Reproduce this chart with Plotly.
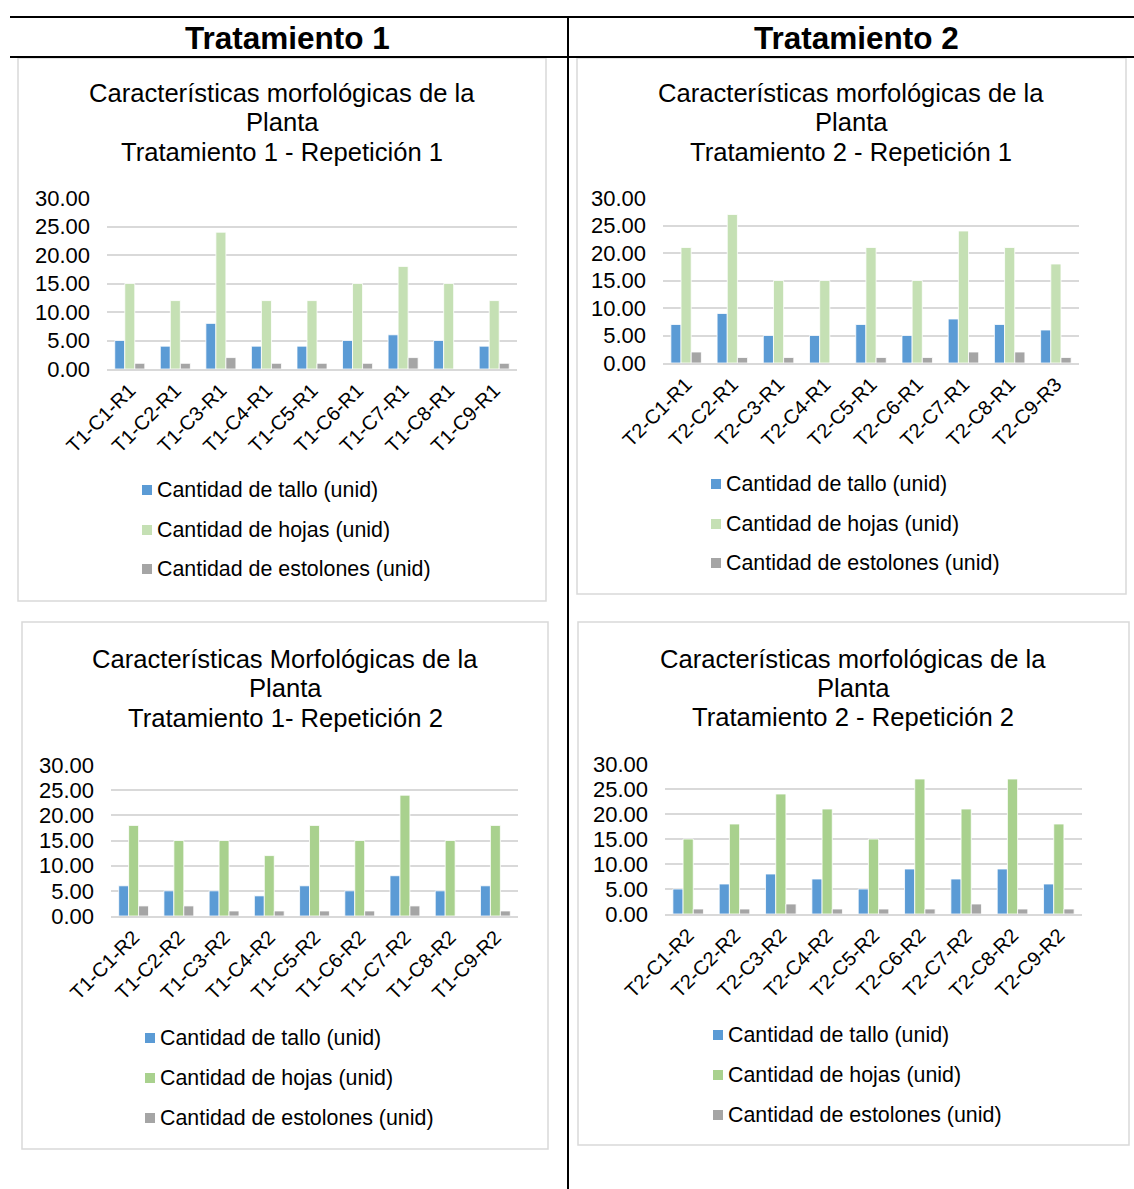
import plotly.graph_objects as go

W, H = 1134, 1189

# ---- data -------------------------------------------------------------
cat_t1_r1 = ["T1-C1-R1", "T1-C2-R1", "T1-C3-R1", "T1-C4-R1", "T1-C5-R1",
             "T1-C6-R1", "T1-C7-R1", "T1-C8-R1", "T1-C9-R1"]
tallo_t1_r1 = [5, 4, 8, 4, 4, 5, 6, 5, 4]
hojas_t1_r1 = [15, 12, 24, 12, 12, 15, 18, 15, 12]
estol_t1_r1 = [1, 1, 2, 1, 1, 1, 2, 0, 1]

cat_t2_r1 = ["T2-C1-R1", "T2-C2-R1", "T2-C3-R1", "T2-C4-R1", "T2-C5-R1",
             "T2-C6-R1", "T2-C7-R1", "T2-C8-R1", "T2-C9-R3"]
tallo_t2_r1 = [7, 9, 5, 5, 7, 5, 8, 7, 6]
hojas_t2_r1 = [21, 27, 15, 15, 21, 15, 24, 21, 18]
estol_t2_r1 = [2, 1, 1, 0, 1, 1, 2, 2, 1]

cat_t1_r2 = ["T1-C1-R2", "T1-C2-R2", "T1-C3-R2", "T1-C4-R2", "T1-C5-R2",
             "T1-C6-R2", "T1-C7-R2", "T1-C8-R2", "T1-C9-R2"]
tallo_t1_r2 = [6, 5, 5, 4, 6, 5, 8, 5, 6]
hojas_t1_r2 = [18, 15, 15, 12, 18, 15, 24, 15, 18]
estol_t1_r2 = [2, 2, 1, 1, 1, 1, 2, 0, 1]

cat_t2_r2 = ["T2-C1-R2", "T2-C2-R2", "T2-C3-R2", "T2-C4-R2", "T2-C5-R2",
             "T2-C6-R2", "T2-C7-R2", "T2-C8-R2", "T2-C9-R2"]
tallo_t2_r2 = [5, 6, 8, 7, 5, 9, 7, 9, 6]
hojas_t2_r2 = [15, 18, 24, 21, 15, 27, 21, 27, 18]
estol_t2_r2 = [1, 1, 2, 1, 1, 1, 2, 1, 1]

series_names = ["Cantidad de tallo (unid)", "Cantidad de hojas (unid)",
                "Cantidad de estolones (unid)"]

titles = [
    ["Características morfológicas de la", "Planta", "Tratamiento 1 - Repetición 1"],
    ["Características morfológicas de la", "Planta", "Tratamiento 2 - Repetición 1"],
    ["Características Morfológicas de la", "Planta", "Tratamiento 1- Repetición 2"],
    ["Características morfológicas de la", "Planta", "Tratamiento 2 - Repetición 2"],
]

# ---- styling ----------------------------------------------------------
FONT = "Liberation Sans, Arial, sans-serif"
BLUE = "#5b9bd5"
GREEN_LIGHT = "#c5e0b4"
GREEN = "#a9d18e"
GRAY = "#a5a5a5"
GRID = "#d9d9d9"

def px_x(x):
    return x / W

def px_y(y):
    return 1 - y / H

# per-panel geometry in pixels
panels = [
    dict(cats=cat_t1_r1, vals=[tallo_t1_r1, hojas_t1_r1, estol_t1_r1], green=GREEN_LIGHT,
         plot=(107, 517, 198, 369), box=(18, 546, 58, 601), tcx=282, ty=(93, 122, 152),
         leg=(142, (490, 530, 569))),
    dict(cats=cat_t2_r1, vals=[tallo_t2_r1, hojas_t2_r1, estol_t2_r1], green=GREEN_LIGHT,
         plot=(663, 1079, 198, 363), box=(577, 1126, 58, 594), tcx=851, ty=(93, 122, 152),
         leg=(711, (484, 524, 563))),
    dict(cats=cat_t1_r2, vals=[tallo_t1_r2, hojas_t1_r2, estol_t1_r2], green=GREEN,
         plot=(111, 518, 765, 916), box=(22, 548, 622, 1149), tcx=285, ty=(659, 688, 718),
         leg=(145, (1038, 1078, 1118))),
    dict(cats=cat_t2_r2, vals=[tallo_t2_r2, hojas_t2_r2, estol_t2_r2], green=GREEN,
         plot=(665, 1082, 764, 914), box=(578, 1129, 622, 1145), tcx=853, ty=(659, 688, 717),
         leg=(713, (1035, 1075, 1115))),
]

fig = go.Figure()
layout = dict(
    width=W, height=H, margin=dict(l=0, r=0, t=0, b=0, pad=0, autoexpand=False),
    paper_bgcolor="white", plot_bgcolor="white", showlegend=False,
    barmode="group", bargap=0.34, bargroupgap=0,
    font=dict(family=FONT, color="#000000"),
    shapes=[], annotations=[],
)

for i, p in enumerate(panels):
    n = "" if i == 0 else str(i + 1)
    xa, ya = "x" + n, "y" + n
    colors = [BLUE, p["green"], GRAY]
    for k in range(3):
        fig.add_trace(go.Bar(
            x=p["cats"], y=p["vals"][k], name=series_names[k],
            marker=dict(color=colors[k], line=dict(color="white", width=0.8)),
            xaxis=xa, yaxis=ya,
        ))
    x0, x1, y0, y1 = p["plot"]
    layout["xaxis" + n] = dict(
        domain=[px_x(x0), px_x(x1)], anchor=ya, automargin=False,
        showline=True, linecolor=GRID, linewidth=1.5,
        showgrid=False, ticks="", tickangle=-45,
        tickfont=dict(family=FONT, size=20, color="#000000"),
        ticklabelstandoff=0, fixedrange=True,
    )
    layout["yaxis" + n] = dict(
        domain=[px_y(y1), px_y(y0)], anchor=xa, automargin=False,
        range=[0, 30], dtick=5, tickformat=".2f",
        showgrid=True, gridcolor=GRID, gridwidth=1.5, zeroline=False,
        showline=False, ticks="",
        tickfont=dict(family=FONT, size=22, color="#000000"),
        ticklabelstandoff=16, fixedrange=True,
    )
    # legend: colour swatch + label per series
    lx, lys = p["leg"]
    for k in range(3):
        ly = lys[k]
        layout["shapes"].append(dict(
            type="rect", xref="paper", yref="paper",
            x0=px_x(lx), x1=px_x(lx + 10), y0=px_y(ly + 5), y1=px_y(ly - 5),
            fillcolor=colors[k], line=dict(width=0),
        ))
        layout["annotations"].append(dict(
            text=series_names[k], xref="paper", yref="paper",
            x=px_x(lx + 13), y=px_y(ly), xanchor="left", yanchor="middle",
            showarrow=False, font=dict(family=FONT, size=21.4, color="#000000"),
        ))
    # chart frame
    bx0, bx1, by0, by1 = p["box"]
    layout["shapes"].append(dict(
        type="rect", xref="paper", yref="paper",
        x0=px_x(bx0), x1=px_x(bx1), y0=px_y(by1), y1=px_y(by0),
        line=dict(color=GRID, width=1.5), layer="below",
    ))
    # chart title (three lines)
    for line_text, ty in zip(titles[i], p["ty"]):
        layout["annotations"].append(dict(
            text=line_text, xref="paper", yref="paper",
            x=px_x(p["tcx"]), y=px_y(ty), xanchor="center", yanchor="middle",
            showarrow=False, font=dict(family=FONT, size=25.6, color="#000000"),
        ))

# table rules and column headers
black = dict(color="#000000", width=2)
layout["shapes"] += [
    dict(type="line", xref="paper", yref="paper", x0=px_x(10), x1=1,
         y0=px_y(17), y1=px_y(17), line=black),
    dict(type="line", xref="paper", yref="paper", x0=px_x(10), x1=1,
         y0=px_y(57), y1=px_y(57), line=black),
    dict(type="line", xref="paper", yref="paper", x0=px_x(568), x1=px_x(568),
         y0=0, y1=px_y(17), line=black),
]
for txt, cx in [("Tratamiento 1", 287), ("Tratamiento 2", 856)]:
    layout["annotations"].append(dict(
        text=f"<b>{txt}</b>", xref="paper", yref="paper",
        x=px_x(cx), y=px_y(38), xanchor="center", yanchor="middle",
        showarrow=False, font=dict(family=FONT, size=31.5, color="#000000"),
    ))

fig.update_layout(**layout)
fig.write_html("out.html")
